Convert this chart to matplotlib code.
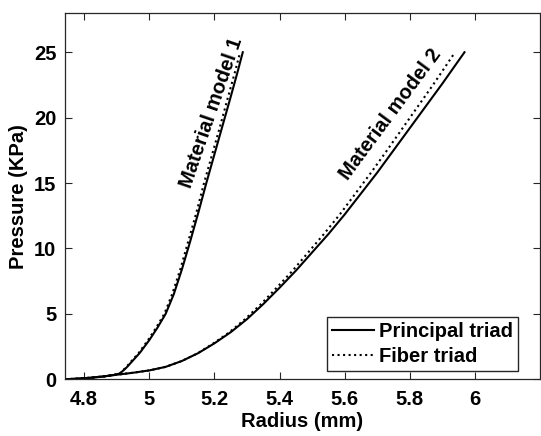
import matplotlib
matplotlib.use("Agg")
import matplotlib.pyplot as plt

plt.rcParams['font.family'] = ['Liberation Sans', 'DejaVu Sans']
plt.rcParams['font.weight'] = 'bold'

# Material model 1
m1_principal_x = [4.74, 4.78, 4.82, 4.86, 4.89, 4.91, 4.93, 4.95, 4.97, 5.00, 5.025, 5.05, 5.075, 5.10, 5.125, 5.15, 5.175, 5.20, 5.225, 5.25, 5.27, 5.287]
m1_principal_y = [0, 0.05, 0.12, 0.22, 0.33, 0.45, 0.9, 1.45, 2.0, 3.0, 3.95, 5.0, 6.5, 8.4, 10.5, 12.7, 15.0, 17.2, 19.4, 21.6, 23.4, 25.0]
m1_fiber_x = [4.74, 4.78, 4.82, 4.86, 4.89, 4.909, 4.928, 4.947, 4.967, 4.996, 5.021, 5.046, 5.070, 5.095, 5.119, 5.144, 5.168, 5.193, 5.218, 5.242, 5.262, 5.279]
m1_fiber_y = [0, 0.05, 0.12, 0.22, 0.33, 0.45, 0.9, 1.45, 2.0, 3.0, 3.95, 5.0, 6.5, 8.4, 10.5, 12.7, 15.0, 17.2, 19.4, 21.6, 23.4, 25.0]

# Material model 2
m2_principal_x = [4.74, 4.78, 4.82, 4.86, 4.90, 4.95, 5.00, 5.05, 5.10, 5.15, 5.20, 5.25, 5.30, 5.35, 5.40, 5.45, 5.50, 5.55, 5.60, 5.65, 5.70, 5.75, 5.80, 5.85, 5.90, 5.968]
m2_principal_y = [0, 0.05, 0.12, 0.22, 0.35, 0.5, 0.68, 0.95, 1.4, 2.0, 2.75, 3.6, 4.6, 5.75, 7.0, 8.3, 9.7, 11.1, 12.6, 14.2, 15.8, 17.5, 19.2, 20.9, 22.6, 25.0]
m2_fiber_x = [4.74, 4.78, 4.82, 4.86, 4.90, 4.95, 5.00, 5.05, 5.10, 5.149, 5.197, 5.246, 5.294, 5.343, 5.391, 5.440, 5.488, 5.536, 5.585, 5.633, 5.681, 5.730, 5.778, 5.826, 5.874, 5.939]
m2_fiber_y = [0, 0.05, 0.12, 0.22, 0.35, 0.5, 0.68, 0.95, 1.4, 2.0, 2.75, 3.6, 4.6, 5.75, 7.0, 8.3, 9.7, 11.1, 12.6, 14.2, 15.8, 17.5, 19.2, 20.9, 22.6, 25.0]

x_ticks = [4.8, 5.0, 5.2, 5.4, 5.6, 5.8, 6.0]
x_ticklabels = ['4.8', '5', '5.2', '5.4', '5.6', '5.8', '6']
y_ticks = [0, 5, 10, 15, 20, 25]
y_ticklabels = ['0', '5', '10', '15', '20', '25']

fs = 14.5
fig = plt.figure(figsize=(5.41, 4.36), dpi=100)
ax = fig.add_axes([64.7/541, 1 - 379.3/436, (540 - 64.7)/541, (379.3 - 13)/436])

ax.plot(m1_principal_x, m1_principal_y, color='black', lw=1.5, label='Principal triad')
ax.plot(m1_fiber_x, m1_fiber_y, color='black', lw=1.5, ls=':', label='Fiber triad')
ax.plot(m2_principal_x, m2_principal_y, color='black', lw=1.5)
ax.plot(m2_fiber_x, m2_fiber_y, color='black', lw=1.5, ls=':')

ax.set_xlim(4.74, 6.2)
ax.set_ylim(0, 28)
ax.set_xticks(x_ticks)
ax.set_xticklabels(x_ticklabels)
ax.set_yticks(y_ticks)
ax.set_yticklabels(y_ticklabels)
ax.tick_params(direction='in', length=5, width=0.8, color='#262626', top=True, right=True,
               labelsize=fs, pad=6)
ax.tick_params(axis='x', pad=8)
for s in ax.spines.values():
    s.set_color('#262626')
    s.set_linewidth(0.9)

ax.set_xlabel('Radius (mm)', fontsize=fs, fontweight='bold', labelpad=2)
ax.set_ylabel('Pressure (KPa)', fontsize=fs, fontweight='bold', labelpad=4)

ax.text(5.19, 20.4, 'Material model 1', rotation=71, fontsize=fs, fontweight='bold',
        ha='center', va='center', rotation_mode='anchor')
ax.text(5.74, 20.25, 'Material model 2', rotation=53.5, fontsize=fs, fontweight='bold',
        ha='center', va='center', rotation_mode='anchor')

leg = ax.legend(loc='lower right', bbox_to_anchor=(0.9537, 0.0227), fontsize=fs,
                frameon=True, fancybox=False, framealpha=1, borderaxespad=0,
                handlelength=2.1, handletextpad=0.25, borderpad=0.25, labelspacing=0.3)
leg.get_frame().set_edgecolor('#262626')
leg.get_frame().set_linewidth(1.0)
for t in leg.get_texts():
    t.set_fontweight('bold')

fig.savefig('out.png', dpi=100)
